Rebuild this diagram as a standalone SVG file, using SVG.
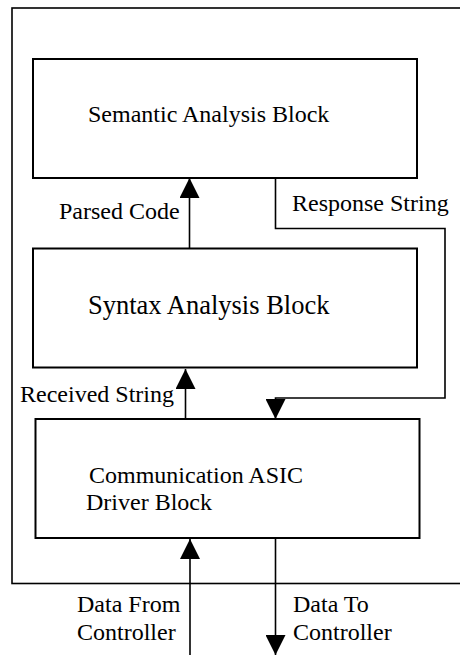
<svg xmlns="http://www.w3.org/2000/svg" width="460" height="655" viewBox="0 0 460 655">
<style>
.box{fill:#fff;stroke:#000;stroke-width:2}
.frame{fill:none;stroke:#000;stroke-width:1.6}
.conn{fill:none;stroke:#000;stroke-width:1.6}
text{font-family:"Liberation Serif","Times New Roman",serif;font-size:24px;fill:#000}
</style>
<defs>
<marker id="arr" viewBox="0 0 20 20" refX="20" refY="10" markerWidth="20" markerHeight="20" markerUnits="userSpaceOnUse" orient="auto">
<path d="M0,0 L20,10 L0,20 z" fill="#000"/>
</marker>
</defs>
<rect x="0" y="0" width="460" height="655" fill="#fff"/>
<g id="frame">
<rect class="frame" x="12" y="8" width="470" height="575.5"/>
</g>
<g id="semantic">
<rect class="box" x="33" y="59" width="384" height="119"/>
<text x="88" y="121.5">Semantic Analysis Block</text>
</g>
<g id="syntax">
<rect class="box" x="33" y="248.5" width="384" height="119"/>
<text x="88" y="313.5" style="font-size:26.5px">Syntax Analysis Block</text>
</g>
<g id="comm">
<rect class="box" x="35.5" y="419" width="384" height="119"/>
<text x="89" y="482.5">Communication ASIC</text>
<text x="86" y="510">Driver Block</text>
</g>
<g id="connectors">
<line class="conn" x1="189.5" y1="248.5" x2="189.5" y2="178" marker-end="url(#arr)"/>
<path class="conn" d="M275.5,178 V228.5 H445 V398 H275.5 V419" marker-end="url(#arr)"/>
<line class="conn" x1="185.5" y1="419" x2="185.5" y2="369" marker-end="url(#arr)"/>
<line class="conn" x1="190" y1="655" x2="190" y2="539" marker-end="url(#arr)"/>
<line class="conn" x1="275.5" y1="538" x2="275.5" y2="655" marker-end="url(#arr)"/>
</g>
<g id="labels">
<text x="59" y="219">Parsed Code</text>
<text x="292" y="211">Response String</text>
<text x="20" y="401.5">Received String</text>
<text x="77" y="612">Data From</text>
<text x="77" y="640">Controller</text>
<text x="293" y="612">Data To</text>
<text x="293" y="640">Controller</text>
</g>
</svg>
